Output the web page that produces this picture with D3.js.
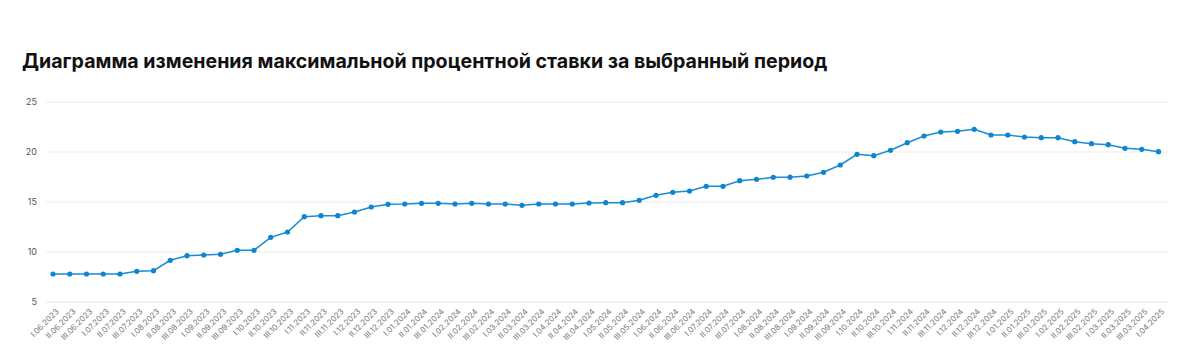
<!DOCTYPE html>
<html><head><meta charset="utf-8">
<script src="https://cdn.jsdelivr.net/npm/d3@7"></script>
<style>body{margin:0;background:#fff;}svg{display:block;}</style>
</head><body>
<svg id="c" width="1200" height="358"></svg>
<script>
const categories = ["I.06.2023","II.06.2023","III.06.2023","I.07.2023","II.07.2023","III.07.2023","I.08.2023","II.08.2023","III.08.2023","I.09.2023","II.09.2023","III.09.2023","I.10.2023","II.10.2023","III.10.2023","I.11.2023","II.11.2023","III.11.2023","I.12.2023","II.12.2023","III.12.2023","I.01.2024","II.01.2024","III.01.2024","I.02.2024","II.02.2024","III.02.2024","I.03.2024","II.03.2024","III.03.2024","I.04.2024","II.04.2024","III.04.2024","I.05.2024","II.05.2024","III.05.2024","I.06.2024","II.06.2024","III.06.2024","I.07.2024","II.07.2024","III.07.2024","I.08.2024","II.08.2024","III.08.2024","I.09.2024","II.09.2024","III.09.2024","I.10.2024","II.10.2024","III.10.2024","I.11.2024","II.11.2024","III.11.2024","I.12.2024","II.12.2024","III.12.2024","I.01.2025","II.01.2025","III.01.2025","I.02.2025","II.02.2025","III.02.2025","I.03.2025","II.03.2025","III.03.2025","I.04.2025"];
const rates = [7.8,7.8,7.8,7.8,7.8,8.07,8.13,9.17,9.63,9.7,9.77,10.17,10.17,11.47,12.0,13.53,13.63,13.63,14.0,14.5,14.77,14.8,14.87,14.87,14.8,14.87,14.8,14.8,14.67,14.8,14.8,14.8,14.9,14.93,14.93,15.17,15.67,15.97,16.1,16.57,16.57,17.13,17.27,17.47,17.48,17.6,17.97,18.7,19.77,19.63,20.17,20.93,21.6,22.0,22.07,22.27,21.7,21.7,21.5,21.43,21.43,21.03,20.83,20.73,20.37,20.27,20.03];
const yTicks = [5,10,15,20,25];
const title = "Диаграмма изменения максимальной процентной ставки за выбранный период";

const svg = d3.select("#c");
const pLeft = 46, pRight = 1168, pTop = 102, pBottom = 302;
const x = d3.scalePoint().domain(categories).range([53, 1158.5]);
const y = d3.scaleLinear().domain([5,25]).range([pBottom, pTop]);

svg.append("text").attr("x",22).attr("y",68)
  .attr("font-family","Inter, Roboto, sans-serif").attr("font-weight",700)
  .attr("font-size",19.6).attr("fill","#111").text(title);

// grid
svg.append("g").selectAll("line").data(yTicks.filter(d=>d>5)).join("line")
  .attr("x1",pLeft).attr("x2",pRight).attr("y1",d=>y(d)).attr("y2",d=>y(d))
  .attr("stroke","#ececec").attr("stroke-width",1);
svg.append("line").attr("x1",pLeft).attr("x2",pRight).attr("y1",y(5)).attr("y2",y(5))
  .attr("stroke","#dfe4f2").attr("stroke-width",1);

// y labels
const yAxis = d3.axisLeft(y).tickValues(yTicks).tickSize(0).tickPadding(0);
const gy = svg.append("g").attr("transform",`translate(37,0)`).call(yAxis);
gy.select(".domain").remove();
gy.selectAll("text").attr("font-family","Inter, Roboto, sans-serif").attr("font-size",9).attr("fill","#555");

// x labels
const xAxis = d3.axisBottom(x).tickSize(0).tickPadding(0);
const gx = svg.append("g").attr("transform",`translate(0,${pBottom+8})`).call(xAxis);
gx.select(".domain").remove();
gx.selectAll("text").attr("font-family","Inter, Roboto, sans-serif").attr("font-size",8).attr("fill","#777")
  .attr("text-anchor","end").attr("dy","0.35em")
  .attr("transform","translate(4,0) rotate(-45)");

// line
const line = d3.line().x((d,i)=>x(categories[i])).y(d=>y(d));
svg.append("path").datum(rates).attr("d",line).attr("fill","none")
  .attr("stroke","#1b8bd3").attr("stroke-width",1.5);
svg.append("g").selectAll("circle").data(rates).join("circle")
  .attr("cx",(d,i)=>x(categories[i])).attr("cy",d=>y(d)).attr("r",2.6)
  .attr("fill","#0f84d0");
</script>
</body></html>
